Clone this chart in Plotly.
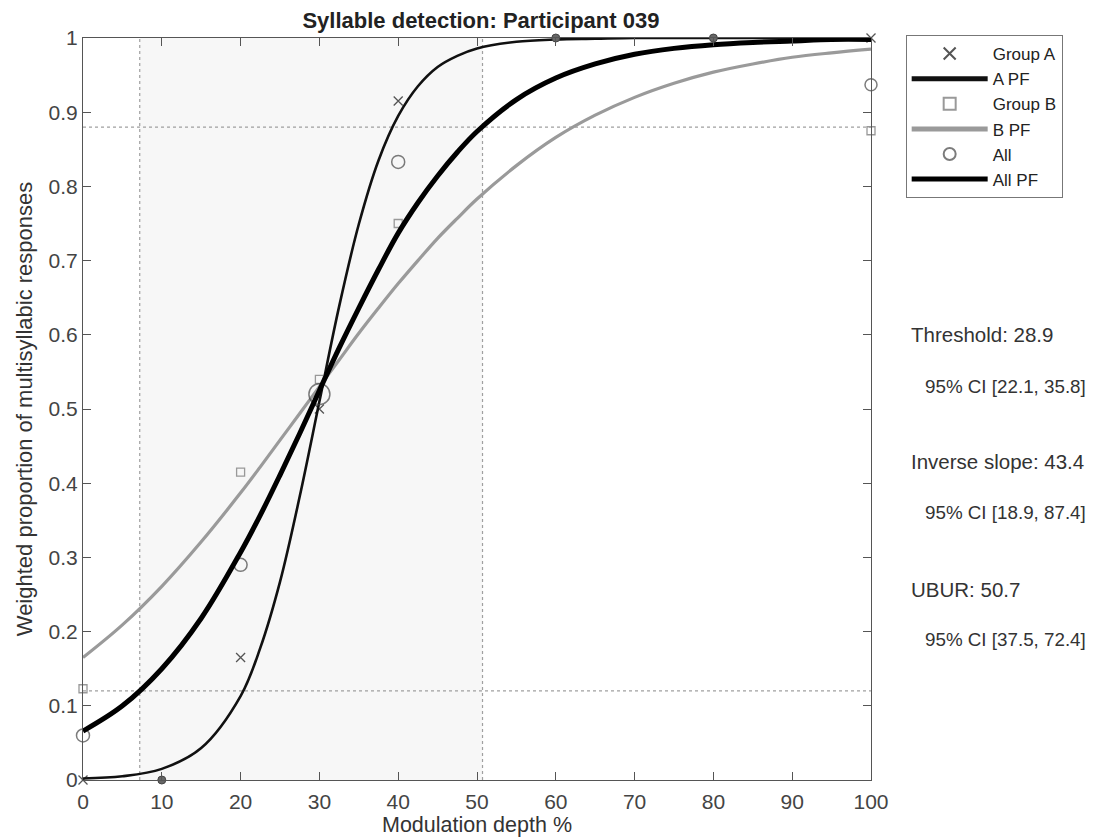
import plotly.graph_objects as go

# ---- data ----
stim_levels = [0, 20, 30, 40, 100]
group_a_prop = [0.0, 0.165, 0.50, 0.915, 1.0]
group_b_prop = [0.123, 0.415, 0.54, 0.75, 0.875]
all_prop = [0.06, 0.29, 0.52, 0.833, 0.937]
all_marker_size = [13, 13, 21, 13, 12]

zero_weight_x = [10, 60, 80]
zero_weight_y = [0.0, 1.0, 1.0]

pf_x = [0, 5, 10, 15, 20, 22.5, 25, 27.5, 30, 32.5, 35, 37.5, 40, 42.5, 45,
        47.5, 50, 55, 60, 65, 70, 75, 80, 85, 90, 95, 100]
a_pf = [0.002, 0.005, 0.015, 0.043, 0.113, 0.178, 0.267, 0.382, 0.510, 0.638,
        0.749, 0.835, 0.895, 0.935, 0.961, 0.976, 0.986, 0.995, 0.998, 0.999, 1.0,
        1.0, 1.0, 1.0, 1.0, 1.0, 1.0]
b_pf = [0.165, 0.209, 0.261, 0.321, 0.387, 0.422, 0.458, 0.494, 0.530, 0.566,
        0.602, 0.636, 0.669, 0.700, 0.730, 0.757, 0.783, 0.828, 0.866, 0.896, 0.920,
        0.939, 0.954, 0.965, 0.974, 0.980, 0.985]
all_pf = [0.066, 0.100, 0.150, 0.218, 0.307, 0.357, 0.411, 0.467, 0.525, 0.582,
          0.636, 0.688, 0.737, 0.778, 0.814, 0.846, 0.874, 0.917, 0.946, 0.965, 0.978,
          0.986, 0.991, 0.994, 0.996, 0.998, 0.998]

ci_low_x = 7.2
ubur_x = 50.7
ci_low_y = 0.12
ci_high_y = 0.88

x_ticks = [0, 10, 20, 30, 40, 50, 60, 70, 80, 90, 100]
y_ticks = [0, 0.1, 0.2, 0.3, 0.4, 0.5, 0.6, 0.7, 0.8, 0.9, 1]
y_tick_text = ["0", "0.1", "0.2", "0.3", "0.4", "0.5", "0.6", "0.7", "0.8", "0.9", "1"]

stats_text = [
    ("Threshold: 28.9", 0.600, 20.5, 0),
    ("95% CI [22.1, 35.8]", 0.530, 18.8, 14),
    ("Inverse slope: 43.4", 0.429, 20.5, 0),
    ("95% CI [18.9, 87.4]", 0.360, 18.8, 14),
    ("UBUR: 50.7", 0.257, 20.5, 0),
    ("95% CI [37.5, 72.4]", 0.189, 18.8, 14),
]

FONT = "Liberation Sans, Arial, sans-serif"

fig = go.Figure()

fig.add_trace(go.Scatter(
    x=stim_levels, y=group_a_prop, mode="markers", name="Group A",
    marker=dict(symbol="x-thin", size=9, line=dict(color="#555555", width=1.3)),
    cliponaxis=False))
fig.add_trace(go.Scatter(
    x=pf_x, y=a_pf, mode="lines", name="A PF", line_shape="spline",
    line=dict(color="#111111", width=2.6)))
fig.add_trace(go.Scatter(
    x=stim_levels, y=group_b_prop, mode="markers", name="Group B",
    marker=dict(symbol="square-open", size=8, color="#999999", line=dict(width=1.3)),
    cliponaxis=False))
fig.add_trace(go.Scatter(
    x=pf_x, y=b_pf, mode="lines", name="B PF", line_shape="spline",
    line=dict(color="#9a9a9a", width=3.2)))
fig.add_trace(go.Scatter(
    x=stim_levels, y=all_prop, mode="markers", name="All",
    marker=dict(symbol="circle-open", size=all_marker_size, color="#444444",
                line=dict(width=1.5)),
    cliponaxis=False))
fig.add_trace(go.Scatter(
    x=pf_x, y=all_pf, mode="lines", name="All PF", line_shape="spline",
    line=dict(color="#000000", width=5)))
fig.add_trace(go.Scatter(
    x=zero_weight_x, y=zero_weight_y, mode="markers", showlegend=False,
    marker=dict(symbol="circle", size=8, color="#666666",
                line=dict(color="#444444", width=1)),
    cliponaxis=False))

# shaded interval and guide lines
fig.add_shape(type="rect", xref="x", yref="paper", x0=ci_low_x, x1=ubur_x, y0=0, y1=1,
              fillcolor="#f7f7f7", line_width=0, layer="below")
for xv in (ci_low_x, ubur_x):
    fig.add_shape(type="line", xref="x", yref="paper", x0=xv, x1=xv, y0=0, y1=1,
                  line=dict(color="#a0a0a0", width=1.2, dash="dot"), layer="below")
for yv in (ci_low_y, ci_high_y):
    fig.add_shape(type="line", xref="paper", yref="y", x0=0, x1=1, y0=yv, y1=yv,
                  line=dict(color="#a0a0a0", width=1.2, dash="dot"), layer="below")

for txt, yp, fs, dx in stats_text:
    fig.add_annotation(text=txt, xref="paper", yref="paper", x=1.0, y=yp,
                       xanchor="left", yanchor="middle", xshift=38 + dx,
                       showarrow=False, font=dict(size=fs, color="#333333", family=FONT))

axis_common = dict(showline=True, linecolor="#555555", linewidth=1.2, mirror="ticks",
                   ticks="inside", ticklen=8, tickcolor="#555555", showgrid=False,
                   zeroline=False, automargin=False,
                   tickfont=dict(size=21, color="#444444", family=FONT))

fig.update_layout(
    width=1088, height=832,
    margin=dict(l=75, r=225, t=30, b=60),
    paper_bgcolor="white", plot_bgcolor="white",
    font=dict(family=FONT, color="#333333"),
    title=dict(text="<b>Syllable detection: Participant 039</b>", xref="paper", x=0.505,
               xanchor="center", yref="container", y=0.995, yanchor="top",
               pad=dict(t=0, b=0),
               font=dict(size=22, color="#222222", family=FONT)),
    xaxis=dict(range=[0, 100], tickvals=x_ticks, ticklabelstandoff=3,
               title=dict(text="Modulation depth %", standoff=2,
                          font=dict(size=21.5, color="#333333", family=FONT)),
               **axis_common),
    yaxis=dict(range=[0, 1], tickvals=y_ticks, ticktext=y_tick_text,
               title=dict(text="Weighted proportion of multisyllabic responses", standoff=9,
                          font=dict(size=22, color="#333333", family=FONT)),
               **axis_common),
    legend=dict(x=1.044, y=1.004, xanchor="left", yanchor="top",
                bordercolor="#777777", borderwidth=1, bgcolor="white",
                font=dict(size=17, color="#222222", family=FONT),
                tracegroupgap=0, itemwidth=76, itemsizing="constant"),
    showlegend=True,
)

fig.write_html("out.html")
